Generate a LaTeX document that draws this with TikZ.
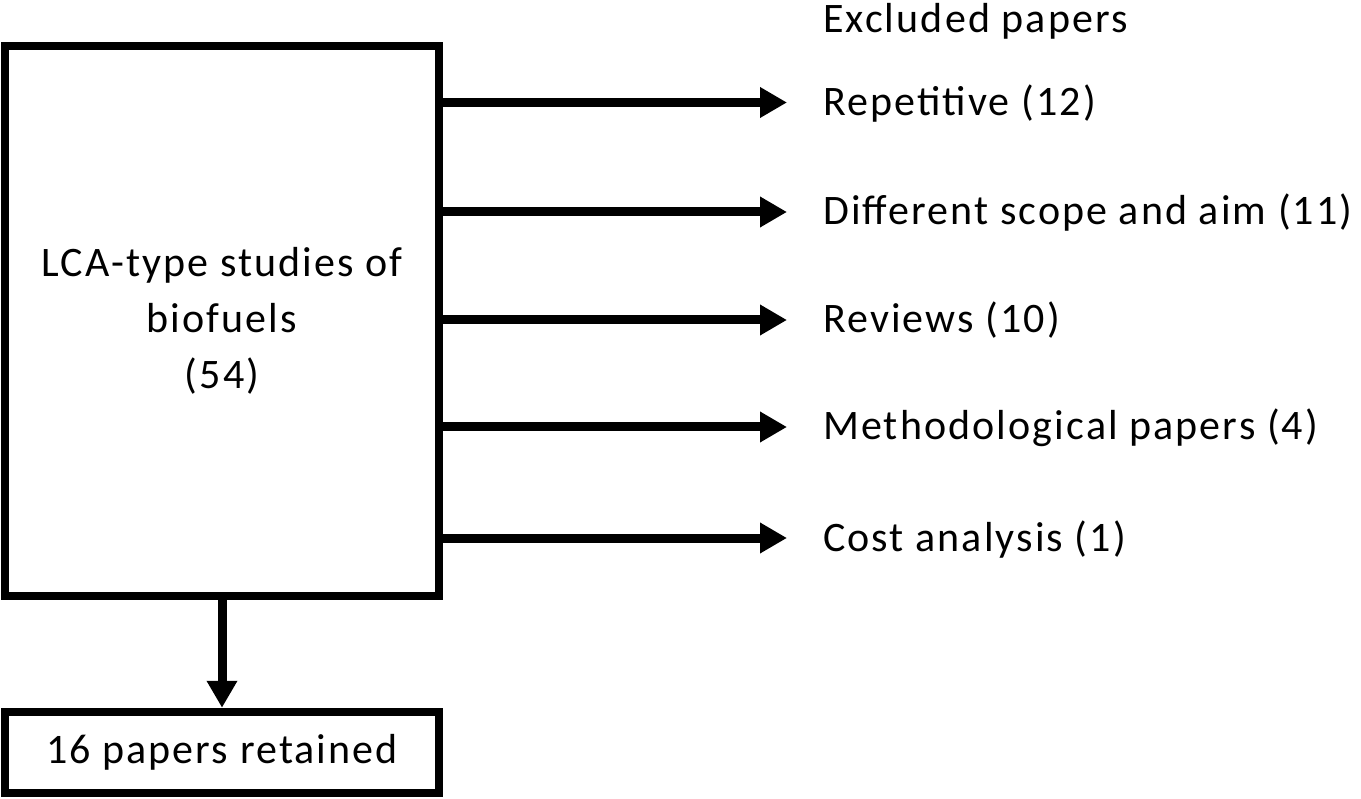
\documentclass[tikz,border=0pt]{standalone}
\usepackage{fontspec}
\setmainfont{Carlito}[LetterSpace=5]
\usetikzlibrary{arrows.meta}
\begin{document}
\begin{tikzpicture}[x=1pt,y=-1pt,
  boxstyle/.style={draw=black,line width=8.5pt,rectangle,inner sep=0pt,align=center,font=\fontsize{42}{56}\selectfont},
  arr/.style={line width=9pt,-{Triangle[length=27pt,width=29pt]}},
  lbl/.style={anchor=base west,inner sep=0pt,font=\fontsize{42}{46}\selectfont}]
\useasboundingbox (0,0) rectangle (1361,799);
\node[boxstyle,minimum width=434pt,minimum height=550pt] (lca) at (222,321) {LCA-type studies of\\biofuels\\(54)};
\node[boxstyle,minimum width=434pt,minimum height=81pt] (ret) at (222,752.5) {\raisebox{-2pt}{16 papers retained}};
\node[lbl] (ex) at (823,33) {Excluded papers};
\foreach \n/\y/\t in {1/102.5/{Repetitive (12)},2/212/{Different scope and aim (11)},3/320/{Reviews (10)},4/427/{Methodological papers (4)},5/538/{Cost analysis (1)}}{
  \coordinate (t\n) at (787,\y);
  \node[lbl] (l\n) at (823,\y+13) {\t};
  \draw[arr] (lca.east |- t\n) -- (t\n);
}
\draw[arr] (lca.south) -- (ret.north);
\end{tikzpicture}
\end{document}
